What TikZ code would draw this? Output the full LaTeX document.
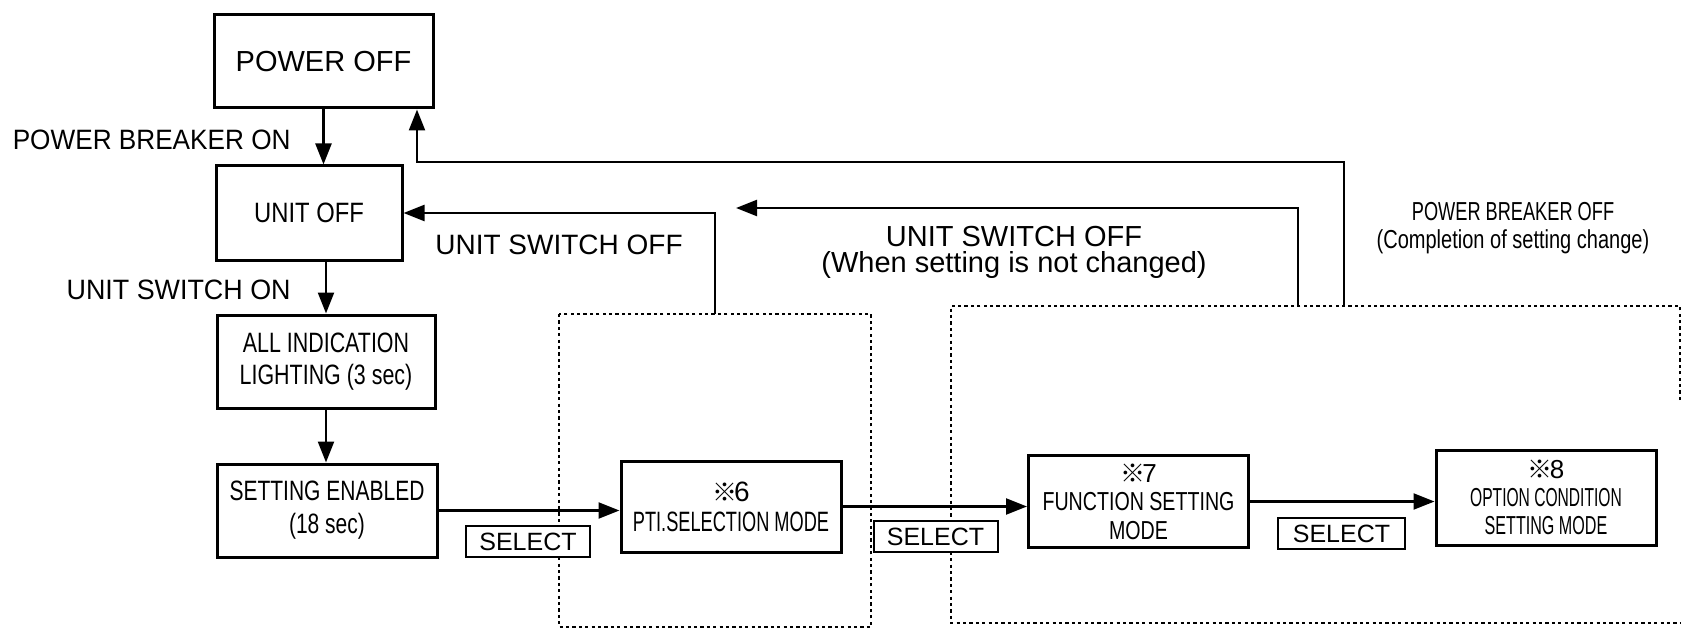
\documentclass[tikz,border=0pt]{standalone}
\usepackage{graphicx}
\usepackage{fontspec}
\setmainfont{Liberation Sans}
\newfontfamily\cjk{Noto Sans CJK JP}
\usetikzlibrary{arrows.meta}
\newcommand\cs[2]{\scalebox{#1}[1]{#2}}
\newcommand\km{{\cjk\fontsize{12.5}{12}\selectfont ※}\kern-1.5pt}
\begin{document}
\begin{tikzpicture}[x=0.5pt,y=-0.5pt,
  box/.style={draw,line width=1.5pt,inner sep=0pt,align=center},
  sel/.style={draw,line width=1pt,fill=white,inner sep=0pt,minimum width=62pt,minimum height=15.5pt,font=\fontsize{12.5}{13}\selectfont},
  arr/.style={line width=1.2pt,-{Triangle[length=10.5pt,width=8pt]}},
  dotline/.style={line width=1.1pt,dash pattern=on 1.6pt off 1.6pt},
  lab/.style={inner sep=0pt,font=\fontsize{14}{16}\selectfont}]
\useasboundingbox (0,0) rectangle (1683,631);
\fill[white] (0,0) rectangle (1683,631);

% dotted frames
\coordinate (f1a) at (559,314);
\coordinate (f1b) at (871,627);
\draw[dotline] (f1a) rectangle (f1b);
\coordinate (f2a) at (951,306);
\coordinate (f2b) at (1680,623);
\coordinate (f2c) at (1680,400);
\draw[dotline] (f2c) -- (f2c |- f2a) -- (f2a) -- (f2a |- f2b) -- (f2b);

% boxes
\node[box,minimum width=109.5pt,minimum height=46.5pt,font=\fontsize{14.5}{16}\selectfont] (poweroff) at (323.5,61.5) {POWER OFF};
\node[box,minimum width=93pt,minimum height=47pt,font=\fontsize{14}{16}\selectfont] (unitoff) at (309,213) {\cs{0.85}{UNIT OFF}};
\node[box,minimum width=109pt,minimum height=46.5pt,font=\fontsize{14}{16}\selectfont] (allind) at (326,361.5) {\cs{0.765}{ALL INDICATION}\\\cs{0.765}{LIGHTING (3 sec)}};
\node[box,minimum width=110pt,minimum height=46.5pt,font=\fontsize{14}{16.5}\selectfont] (setting) at (327,510.5) {\cs{0.75}{SETTING ENABLED}\\\cs{0.75}{(18 sec)}};
\node[box,minimum width=110pt,minimum height=45.5pt,font=\fontsize{14}{15}\selectfont] (pti) at (731,506.5) {\km 6\\\cs{0.65}{PTI.SELECTION MODE}};
\node[box,minimum width=110pt,minimum height=46pt,font=\fontsize{13}{14.2}\selectfont] (func) at (1138.5,501.5) {\km 7\\\cs{0.755}{FUNCTION SETTING}\\\cs{0.755}{MODE}};
\node[box,minimum width=110pt,minimum height=47.5pt,font=\fontsize{13}{14}\selectfont] (option) at (1546,497.5) {\km 8\\\cs{0.6}{OPTION CONDITION}\\\cs{0.62}{SETTING MODE}};

% forward arrows
\draw[arr] (poweroff.south) -- (poweroff.south |- unitoff.north);
\draw[arr] (allind.north |- unitoff.south) -- (allind.north);
\draw[arr] (allind.south) -- (allind.south |- setting.north);
\draw[arr] (setting.east) -- (setting.east -| pti.west);
\draw[arr] (pti.east) -- (pti.east -| func.west);
\draw[arr] (func.east) -- (func.east -| option.west);

% return arrows
\coordinate (pbo) at (1344,306);
\coordinate (pbc) at (417,162);
\draw[arr] (pbo) |- (pbc) -- (pbc |- poweroff.south);
\coordinate (us2) at (1298,306);
\coordinate (us2e) at (736,208);
\draw[arr] (us2) |- (us2e);
\coordinate (us1) at (715,314);
\draw[arr] (us1) |- (unitoff.east);

% labels
\node[lab,anchor=east] (lpbon) at (291,140) {\cs{0.935}{POWER BREAKER ON}};
\node[lab,anchor=east] (luson) at (291,290) {\cs{0.96}{UNIT SWITCH ON}};
\node[lab,anchor=west] (lusoff1) at (435,245) {UNIT SWITCH OFF};
\node[lab,align=center,font=\fontsize{14.5}{13}\selectfont] (lusoff2) at (1014,252) {UNIT SWITCH OFF\\(When setting is not changed)};
\node[lab,align=center,font=\fontsize{13}{14}\selectfont] (lpboff) at (1513,228) {\cs{0.7}{POWER BREAKER OFF}\\\cs{0.77}{(Completion of setting change)}};

% select keys
\node[sel] (s1) at (528,541.5) {SELECT};
\node[sel] (s2) at (935.5,536.5) {SELECT};
\node[sel,minimum width=63.5pt] (s3) at (1341.5,533.5) {SELECT};
\end{tikzpicture}
\end{document}
